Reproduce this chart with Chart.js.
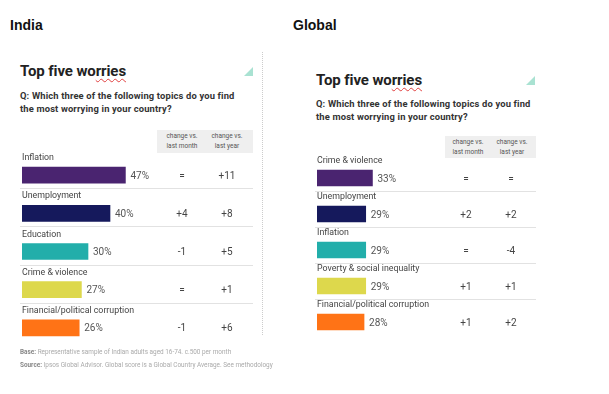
<!DOCTYPE html>
<html>
<head>
<meta charset="utf-8">
<script src="https://cdn.jsdelivr.net/npm/chart.js@4"></script>
<style>
  body { margin: 0; width: 609px; height: 394px; background: #fff; position: relative; overflow: hidden; font-family: Roboto, sans-serif; }
  .abs { position: absolute; white-space: nowrap; }
  .region { font-family: "Liberation Sans", Arial, sans-serif; font-weight: bold; font-size: 14px; color: #111; }
  .title { font-weight: 700; font-size: 15px; line-height: 18px; color: #222; letter-spacing: -0.1px; }
  .title span { text-decoration: underline wavy #e04040 1px; text-underline-offset: 2px; }
  .q { font-weight: 700; font-size: 9.4px; line-height: 13px; color: #333; letter-spacing: 0.15px; }
  .hdr { background: #efefef; }
  .hdr div { position: absolute; top: 2px; width: 46px; text-align: center; font-size: 6.5px; line-height: 9.5px; color: #555; }
  .tri { width: 0; height: 0; border-left: 9px solid transparent; border-bottom: 9px solid #a9e2d2; }
  .foot { font-size: 6.4px; line-height: 13px; color: #aaa; overflow: hidden; }
  .foot b { color: #888; }
  canvas { position: absolute; }
</style>
</head>
<body>
<div class="abs region" style="left:10px;top:17px;">India</div>
<div class="abs region" style="left:293px;top:17px;">Global</div>

<!-- India card -->
<div class="abs" style="left:262px;top:52px;height:283px;border-right:1px dotted #ccc;"></div>
<div class="abs title" style="left:20px;top:62px;">Top five wo<span>rries</span></div>
<div class="abs tri" style="left:244px;top:67px;"></div>
<div class="abs q" style="left:20px;top:89px;">Q: Which three of the following topics do you find<br>the most worrying in your country?</div>
<div class="abs hdr" style="left:157px;top:130px;width:96px;height:23px;">
  <div style="left:2px;">change vs.<br>last month</div>
  <div style="left:47px;">change vs.<br>last year</div>
</div>
<canvas id="indiaChart" width="263" height="200" style="left:0;top:150px;"></canvas>
<div class="abs foot" style="left:20px;top:346px;width:254px;">
  <b>Base:</b> Representative sample of Indian adults aged 16-74. c.500 per month<br>
  <b>Source:</b> Ipsos Global Advisor. Global score is a Global Country Average. See methodology
</div>

<!-- Global card -->
<div class="abs title" style="left:316px;top:71px;">Top five wo<span>rries</span></div>
<div class="abs tri" style="left:526px;top:76px;"></div>
<div class="abs q" style="left:316px;top:97px;">Q: Which three of the following topics do you find<br>the most worrying in your country?</div>
<div class="abs hdr" style="left:445px;top:136px;width:91px;height:22px;">
  <div style="left:0px;">change vs.<br>last month</div>
  <div style="left:44px;">change vs.<br>last year</div>
</div>
<canvas id="globalChart" width="309" height="200" style="left:300px;top:150px;"></canvas>

<script>
// India
const indiaCategories = ['Inflation', 'Unemployment', 'Education', 'Crime & violence', 'Financial/political corruption'];
const indiaValues = [47, 40, 30, 27, 26];
const indiaMonth = ['=', '+4', '-1', '=', '-1'];
const indiaYear = ['+11', '+8', '+5', '+1', '+6'];

// Global
const globalCategories = ['Crime & violence', 'Unemployment', 'Inflation', 'Poverty & social inequality', 'Financial/political corruption'];
const globalValues = [33, 29, 29, 29, 28];
const globalMonth = ['=', '+2', '=', '+1', '+1'];
const globalYear = ['=', '+2', '-4', '+1', '+2'];

const barColors = ['#4a2470', '#15195c', '#22aeaa', '#ddd84c', '#ff7316'];

// draws the label above each bar, the % value, the two change columns and row separators
const rowText = {
  id: 'rowText',
  afterDatasetsDraw(chart, args, o) {
    const ctx = chart.ctx;
    const meta = chart.getDatasetMeta(0);
    const vals = chart.data.datasets[0].data;
    ctx.save();
    ctx.textBaseline = 'middle';
    meta.data.forEach((bar, i) => {
      const y = bar.y;
      ctx.textAlign = 'left';
      ctx.fillStyle = '#444';
      ctx.font = '8.8px Roboto';
      ctx.fillText(chart.data.labels[i], chart.chartArea.left, y - 17);
      ctx.fillStyle = '#555';
      ctx.font = '10px Roboto';
      ctx.fillText(vals[i] + '%', bar.x + 5, y + 1);
      ctx.textAlign = 'center';
      ctx.fillStyle = '#444';
      ctx.fillText(o.month[i], o.col1, y + 1);
      ctx.fillText(o.year[i], o.col2, y + 1);
      if (i < meta.data.length - 1) {
        ctx.strokeStyle = '#e2e2e2';
        ctx.lineWidth = 1;
        ctx.beginPath();
        ctx.moveTo(o.sepFrom, Math.round(y + 13) + 0.5);
        ctx.lineTo(o.sepTo, Math.round(y + 13) + 0.5);
        ctx.stroke();
      }
    });
    ctx.restore();
  }
};

function makeChart(id, cats, vals, month, year, pad, thick, cols) {
  return new Chart(document.getElementById(id), {
    type: 'bar',
    data: {
      labels: cats,
      datasets: [{
        data: vals,
        backgroundColor: barColors,
        borderWidth: 0,
        barThickness: thick
      }]
    },
    options: {
      indexAxis: 'y',
      responsive: false,
      animation: false,
      devicePixelRatio: 1,
      layout: { padding: pad },
      scales: {
        x: { display: false, min: 0, max: 100 },
        y: { display: false }
      },
      plugins: {
        legend: { display: false },
        tooltip: { enabled: false },
        rowText: { month: month, year: year, col1: cols[0], col2: cols[1], sepFrom: cols[2], sepTo: cols[3] }
      }
    },
    plugins: [rowText]
  });
}

makeChart('indiaChart', indiaCategories, indiaValues, indiaMonth, indiaYear,
  { left: 22, right: 21, top: 6, bottom: 3 }, 16, [182, 227, 20, 253]);
makeChart('globalChart', globalCategories, globalValues, globalMonth, globalYear,
  { left: 17, right: 124, top: 10, bottom: 10 }, 16, [166, 211, 15, 236]);
</script>
</body>
</html>
